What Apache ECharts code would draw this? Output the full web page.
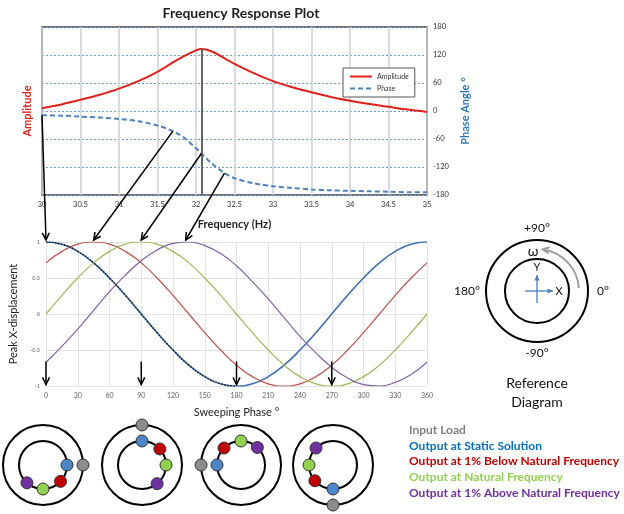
<!DOCTYPE html>
<html><head><meta charset="utf-8">
<script src="https://cdn.jsdelivr.net/npm/echarts@6/dist/echarts.min.js"></script>
<style>html,body{margin:0;padding:0;background:#fff}#c{width:624px;height:514px}</style>
</head><body><div id="c"></div>
<script>
// ---- Frequency response (top chart) ----
const freqs      = [30, 30.25, 30.5, 30.75, 31, 31.25, 31.5, 31.7, 31.85, 32, 32.07, 32.2, 32.37, 32.5, 32.75, 33, 33.25, 33.5, 33.75, 34, 34.25, 34.5, 34.75, 35];
const amplitude  = [6, 14, 24, 35, 48, 64, 84, 104, 118, 130, 133, 128, 113, 101, 81, 64, 51, 40, 30, 22, 15, 9, 3, -2];
const phaseAngle = [-9, -10, -12, -14, -17, -22, -31, -43, -58, -80, -91, -112, -133, -144, -155, -161, -165, -168, -170, -171, -172, -173, -174, -174];
const naturalFreq = 32.07;
const peakAmplitude = 133;

// ---- Sweeping phase (middle chart) ----
const sweepPhase  = [0,15,30,45,60,75,90,105,120,135,150,165,180,195,210,225,240,255,270,285,300,315,330,345,360];
const staticOut   = [1,0.97,0.87,0.71,0.5,0.26,0,-0.26,-0.5,-0.71,-0.87,-0.97,-1,-0.97,-0.87,-0.71,-0.5,-0.26,0,0.26,0.5,0.71,0.87,0.97,1];
const belowOut    = [0.71,0.87,0.97,1,0.97,0.87,0.71,0.5,0.26,0,-0.26,-0.5,-0.71,-0.87,-0.97,-1,-0.97,-0.87,-0.71,-0.5,-0.26,0,0.26,0.5,0.71];
const naturalOut  = [0,0.26,0.5,0.71,0.87,0.97,1,0.97,0.87,0.71,0.5,0.26,0,-0.26,-0.5,-0.71,-0.87,-0.97,-1,-0.97,-0.87,-0.71,-0.5,-0.26,0];
const aboveOut    = [-0.67,-0.45,-0.21,0.05,0.31,0.54,0.74,0.89,0.98,1,0.95,0.84,0.67,0.45,0.21,-0.05,-0.31,-0.54,-0.74,-0.89,-0.98,-1,-0.95,-0.84,-0.67];
const inputSweep  = [1,0.97,0.87,0.71,0.5,0.26,0,-0.26,-0.5,-0.71,-0.87,-0.97,-1];

// ---- Annotation arrows ----
const arrowFreqs = [30, 31.7, 32.07, 32.37];
const arrowPeaks = [0, 45, 90, 132];
const loadMarks  = [0, 90, 180, 270];

// ---- Bottom rotor diagrams (angle in degrees, 0 = right, CCW) ----
const diagramInput   = [0, 90, 180, 270];
const diagramStatic  = [0, 90, 180, 270];
const diagramBelow   = [317, 42, 135, 221];
const diagramNatural = [270, 0, 90, 180];
const diagramAbove   = [228, 309, 47, 135];
const inputRadius = 40;
const outputRadius = 24;
const legendNames = ['Input Load','Output at Static Solution','Output at 1% Below Natural Frequency','Output at Natural Frequency','Output at 1% Above Natural Frequency'];

const FONT = 'Lato';
const dotColors  = ['#8c8c8c','#4a86c8','#c00000','#92d050','#7030a0'];
const textColors = ['#7f7f7f','#0070c0','#c00000','#92d050','#7030a0'];
const diagramSets = [diagramInput, diagramStatic, diagramBelow, diagramNatural, diagramAbove];
const centers = [[43,465],[142,465],[241,465],[333,465]];

const polar = centers.map(c => ({center: c, radius: [0, 40]}));
const angleAxis = centers.map((c,i) => ({polarIndex:i, type:'value', min:0, max:360, startAngle:0, clockwise:false,
  axisLine:{show:true, lineStyle:{color:'#000', width:2}}, axisTick:{show:false}, axisLabel:{show:false}, splitLine:{show:false}}));
const radiusAxis = centers.map((c,i) => ({polarIndex:i, type:'value', min:0, max:40, show:false,
  axisLine:{show:false}, axisTick:{show:false}, axisLabel:{show:false}, splitLine:{show:false}}));

const series = [
  {name:'Amplitude', type:'line', xAxisIndex:0, yAxisIndex:0, data: freqs.map((f,i)=>[f, amplitude[i]]),
   smooth:0.3, symbol:'none', lineStyle:{color:'#e3211c', width:2}, itemStyle:{color:'#e3211c'}, z:3,
   markLine:{silent:true, symbol:'none', label:{show:false}, lineStyle:{color:'#666', width:2, type:'solid'},
     data:[[{coord:[naturalFreq, peakAmplitude]},{coord:[naturalFreq, -180]}]]}},
  {name:'Phase', type:'line', xAxisIndex:0, yAxisIndex:1, data: freqs.map((f,i)=>[f, phaseAngle[i]]),
   smooth:0.3, symbol:'none', lineStyle:{color:'#4f81bd', width:2, type:[5,3]}, itemStyle:{color:'#4f81bd'}, z:3},
  {name:'static sweep', type:'line', xAxisIndex:1, yAxisIndex:2, data: sweepPhase.map((p,i)=>[p, staticOut[i]]),
   smooth:true, symbol:'none', lineStyle:{color:'#3f6fb0', width:1.6}},
  {name:'below sweep', type:'line', xAxisIndex:1, yAxisIndex:2, data: sweepPhase.map((p,i)=>[p, belowOut[i]]),
   smooth:true, symbol:'none', lineStyle:{color:'#c0504d', width:1.2}},
  {name:'natural sweep', type:'line', xAxisIndex:1, yAxisIndex:2, data: sweepPhase.map((p,i)=>[p, naturalOut[i]]),
   smooth:true, symbol:'none', lineStyle:{color:'#9bbb59', width:1.2}},
  {name:'above sweep', type:'line', xAxisIndex:1, yAxisIndex:2, data: sweepPhase.map((p,i)=>[p, aboveOut[i]]),
   smooth:true, symbol:'none', lineStyle:{color:'#8064a2', width:1.2}},
  {name:'input sweep', type:'line', xAxisIndex:1, yAxisIndex:2, data: inputSweep.map((v,i)=>[sweepPhase[i], v]),
   smooth:true, symbol:'none', lineStyle:{color:'#1a1a1a', width:1.4, type:[1.5,1.5]}, z:4}
];
diagramSets.forEach((set, k) => {
  set.forEach((ang, d) => {
    series.push({name: legendNames[k], type:'scatter', coordinateSystem:'polar', polarIndex:d,
      data:[[k===0 ? inputRadius : outputRadius, ang]], symbolSize:12,
      itemStyle:{color:dotColors[k], borderColor:'#333', borderWidth:1, opacity:1}, z:10});
  });
});

const chart = echarts.init(document.getElementById('c'), null, {renderer:'canvas'});
chart.setOption({
  animation:false,
  textStyle:{fontFamily:FONT},
  title:{text:'Frequency Response Plot', left:236, top:1, textAlign:'center',
    textStyle:{fontSize:14, fontWeight:'bold', color:'#222', fontFamily:FONT}},
  legend:[
    {data:['Amplitude','Phase'], orient:'vertical', left:343, top:68, padding:[5,6,5,6], itemGap:5,
     itemWidth:22, itemHeight:8, borderColor:'#555', borderWidth:1, backgroundColor:'#fff', selectedMode:false,
     itemStyle:{color:'transparent', borderWidth:0, opacity:0},
     textStyle:{fontSize:7, color:'#333', fontFamily:FONT}},
    {data: legendNames.map((n,i)=>({name:n, textStyle:{color:textColors[i]}})), orient:'vertical', left:403, top:424,
     padding:0, itemGap:3.8, itemWidth:0, itemHeight:0, icon:'circle', selectedMode:false,
     textStyle:{fontSize:12, fontFamily:FONT, fontWeight:'bold'}}
  ],
  grid:[
    {left:42, top:27, width:385, height:168, show:true, borderColor:'#444', borderWidth:1.5, backgroundColor:'transparent'},
    {left:46, top:242, width:381, height:144}
  ],
  xAxis:[
    {gridIndex:0, type:'value', min:30, max:35, interval:0.5,
     name:'Frequency (Hz)', nameLocation:'middle', nameGap:24,
     nameTextStyle:{fontSize:11, fontWeight:'bold', color:'#222'},
     axisLine:{show:false}, axisTick:{show:false},
     axisLabel:{fontSize:7.5, color:'#333', margin:6, formatter: v => String(v)},
     splitLine:{show:true, lineStyle:{color:'#cfcfcf', width:1.5}}},
    {gridIndex:1, type:'value', min:0, max:360, interval:30,
     name:'Sweeping Phase °', nameLocation:'middle', nameGap:21,
     nameTextStyle:{fontSize:11, color:'#222'},
     axisLine:{show:false}, axisTick:{show:false},
     axisLabel:{fontSize:7, color:'#666', margin:6},
     splitLine:{show:true, lineStyle:{color:'#e3e3e3', width:1}}}
  ],
  yAxis:[
    {gridIndex:0, type:'value', min:-180, max:180, interval:60, position:'left',
     name:'Amplitude', nameLocation:'middle', nameGap:9,
     nameTextStyle:{fontSize:11, fontWeight:'bold', color:'#e3211c'},
     axisLine:{show:false}, axisTick:{show:false}, axisLabel:{show:false}, splitLine:{show:false}},
    {gridIndex:0, type:'value', min:-180, max:180, interval:60, position:'right',
     name:'Phase Angle °', nameLocation:'middle', nameGap:30,
     nameTextStyle:{fontSize:11, fontWeight:'bold', color:'#2e75b6'},
     axisLine:{show:false}, axisTick:{show:false},
     axisLabel:{fontSize:7.5, color:'#333', margin:6},
     splitLine:{show:true, lineStyle:{color:'#6f9fd8', width:1, type:[2,2]}}},
    {gridIndex:1, type:'value', min:-1, max:1, interval:0.5,
     name:'Peak X-displacement', nameLocation:'middle', nameGap:22,
     nameTextStyle:{fontSize:11, color:'#222'},
     axisLine:{show:false}, axisTick:{show:false},
     axisLabel:{fontSize:5.5, color:'#666', margin:6},
     splitLine:{show:true, lineStyle:{color:'#e3e3e3', width:1}}}
  ],
  polar, angleAxis, radiusAxis,
  series
});

function arrowEls(x1,y1,x2,y2,color,w,len,filled){
  const a = Math.atan2(y2-y1, x2-x1);
  const h1 = [x2-len*Math.cos(a-0.45), y2-len*Math.sin(a-0.45)];
  const h2 = [x2-len*Math.cos(a+0.45), y2-len*Math.sin(a+0.45)];
  const els = [{type:'line', silent:true, z:100, shape:{x1,y1,x2,y2}, style:{stroke:color, lineWidth:w}}];
  if (filled) els.push({type:'polygon', silent:true, z:100, shape:{points:[[x2,y2],h1,h2]}, style:{fill:color}});
  else els.push({type:'polyline', silent:true, z:100, shape:{points:[h1,[x2,y2],h2]}, style:{stroke:color, lineWidth:w, fill:null}});
  return els;
}
const g = [];
arrowFreqs.forEach((f,i) => {
  const idx = freqs.indexOf(f);
  const p0 = chart.convertToPixel({seriesIndex:1}, [f, phaseAngle[idx]]);
  const p1 = chart.convertToPixel({seriesIndex:2}, [arrowPeaks[i], 1]);
  g.push(...arrowEls(p0[0], p0[1], p1[0], p1[1]-2, '#000', 1.5, 8, false));
});
loadMarks.forEach(m => {
  const a = chart.convertToPixel({seriesIndex:2}, [m, -0.66]);
  const b = chart.convertToPixel({seriesIndex:2}, [m, -0.98]);
  g.push(...arrowEls(a[0], a[1], b[0], b[1], '#000', 1.5, 8, false));
});
// inner rings of the rotor diagrams
centers.forEach(c => g.push({type:'circle', silent:true, z:1, shape:{cx:c[0], cy:c[1], r:outputRadius}, style:{stroke:'#000', lineWidth:2, fill:null}}));
// reference diagram
const rc = [537, 291];
g.push({type:'circle', silent:true, shape:{cx:rc[0], cy:rc[1], r:51}, style:{stroke:'#000', lineWidth:2, fill:null}});
g.push({type:'circle', silent:true, shape:{cx:rc[0], cy:rc[1], r:32}, style:{stroke:'#000', lineWidth:2, fill:null}});
const a0 = -4*Math.PI/180, a1 = -82*Math.PI/180, rr = 42;
g.push({type:'arc', silent:true, shape:{cx:rc[0], cy:rc[1], r:rr, startAngle:a0, endAngle:a1, clockwise:false}, style:{stroke:'#a0a0a0', lineWidth:2, fill:null}});
{
  const tx = rc[0]+rr*Math.cos(a1), ty = rc[1]+rr*Math.sin(a1);
  const dir = a1 - Math.PI/2;
  const dx = Math.cos(dir), dy = Math.sin(dir);
  g.push(...arrowEls(tx-dx*2, ty-dy*2, tx, ty, '#a0a0a0', 2, 7, false).slice(1));
}
g.push(...arrowEls(rc[0]-12, rc[1], rc[0]+16, rc[1], '#4a7ebb', 1.3, 6, true));
g.push(...arrowEls(rc[0], rc[1]+12, rc[0], rc[1]-16, '#4a7ebb', 1.3, 6, true));
const txt = (text,x,y,size,color,weight) => ({type:'text', silent:true, z:50, style:{text, x, y, align:'center', verticalAlign:'middle', fontSize:size, fontFamily:FONT, fill:color||'#111', fontWeight:weight||'normal'}});
g.push(txt('+90°', 537, 228, 12));
g.push(txt('180°', 467, 291, 12));
g.push(txt('0°', 603, 291, 12));
g.push(txt('-90°', 537, 353, 12));
g.push(txt('ω', 533, 251, 14));
g.push(txt('X', 559, 291, 11));
g.push(txt('Y', 537, 267, 11));
g.push(txt('Reference', 537, 383, 14));
g.push(txt('Diagram', 537, 402, 14));
chart.setOption({graphic: g});
</script></body></html>
